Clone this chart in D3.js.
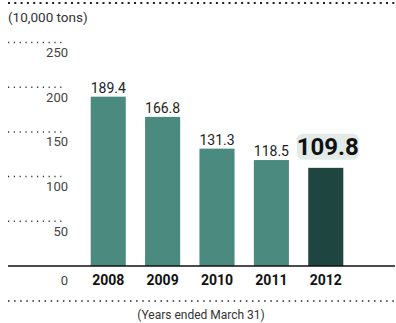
<!DOCTYPE html>
<html><head><meta charset="utf-8">
<script src="https://cdn.jsdelivr.net/npm/d3@7"></script>
<style>
html,body{margin:0;padding:0;background:#fff;}
svg{display:block;font-family:Roboto,"Liberation Sans",sans-serif;}
</style></head>
<body><svg id="c" width="396" height="323"></svg>
<script>
const years = ["2008","2009","2010","2011","2012"];
const values = [189.4, 166.8, 131.3, 118.5, 109.8];
const yTicks = [0, 50, 100, 150, 200, 250];
const unitLabel = "(10,000 tons)";
const footnote = "(Years ended March 31)";

const svg = d3.select("#c");
const y = d3.scaleLinear().domain([0, 250]).range([266, 42.5]);
const x = d3.scaleBand().domain(years).range([63.5, 370.5]).paddingInner(0.355).paddingOuter(0.5);

// top dotted line
svg.append("line").attr("x1", 8).attr("x2", 395).attr("y1", 3).attr("y2", 3)
  .attr("stroke", "#222").attr("stroke-width", 2).attr("stroke-dasharray", "2,4.3");
svg.append("text").attr("x", 8).attr("y", 22).attr("font-size", 13.5).attr("fill", "#333").text(unitLabel);

// gridlines + tick labels
const g = svg.append("g");
yTicks.forEach(t => {
  if (t > 0) {
    g.append("line").attr("x1", 8).attr("x2", 66).attr("y1", y(t)).attr("y2", y(t))
      .attr("stroke", "#333").attr("stroke-width", 1.5).attr("stroke-dasharray", "1.2,4.6");
  }
  g.append("text").attr("x", 68).attr("y", y(t) + (t === 0 ? 19 : 14.3)).attr("text-anchor", "end")
    .attr("font-size", 13).attr("fill", "#444").text(t);
});

// bars
svg.selectAll("rect.bar").data(values).enter().append("rect").attr("class", "bar")
  .attr("x", (d, i) => x(years[i])).attr("width", x.bandwidth())
  .attr("y", d => y(d)).attr("height", d => y(0) - y(d))
  .attr("fill", (d, i) => i === values.length - 1 ? "#1f4540" : "#4b8a7f");

// value labels
values.forEach((v, i) => {
  const cx = x(years[i]) + x.bandwidth() / 2;
  if (i === values.length - 1) {
    svg.append("rect").attr("x", cx - 29).attr("y", y(v) - 34).attr("width", 62).attr("height", 26)
      .attr("rx", 6).attr("fill", "#e3ebe8");
    svg.append("text").attr("x", cx + 2).attr("y", y(v) - 12.5).attr("text-anchor", "middle")
      .attr("font-size", 24).attr("font-weight", "bold").attr("fill", "#111").text(v.toFixed(1));
  } else {
    svg.append("text").attr("x", cx).attr("y", y(v) - 4).attr("text-anchor", "middle")
      .attr("font-size", 14).attr("fill", "#222").text(v.toFixed(1));
  }
});

// baseline
svg.append("line").attr("x1", 8).attr("x2", 395).attr("y1", y(0)).attr("y2", y(0))
  .attr("stroke", "#111").attr("stroke-width", 1.5);

// year labels
svg.selectAll("text.yr").data(years).enter().append("text").attr("class", "yr")
  .attr("x", d => x(d) + x.bandwidth() / 2).attr("y", y(0) + 19).attr("text-anchor", "middle")
  .attr("font-size", 14).attr("font-weight", "bold").attr("fill", "#111").text(d => d);

// bottom dotted line
svg.append("line").attr("x1", 8).attr("x2", 395).attr("y1", 301).attr("y2", 301)
  .attr("stroke", "#222").attr("stroke-width", 1.5).attr("stroke-dasharray", "1.5,4.6");
svg.append("text").attr("x", 201).attr("y", 319).attr("text-anchor", "middle")
  .attr("font-size", 12).attr("fill", "#333").text(footnote);
</script></body></html>
